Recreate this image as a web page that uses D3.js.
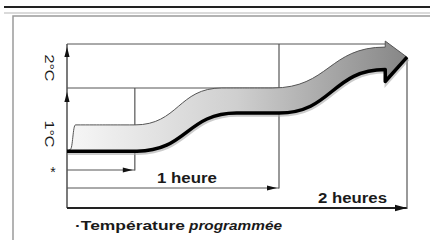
<!DOCTYPE html>
<html>
<head>
<meta charset="utf-8">
<script src="https://cdn.jsdelivr.net/npm/d3@7"></script>
<style>
  body { margin: 0; background: #fff; }
  text { font-family: "Liberation Sans", Arial, sans-serif; fill: #1a1a1a; }
</style>
</head>
<body>
<script>
// time in hours, temperature rise in degrees
var timeBreaks = [0, 1, 2];
var tempBreaks = [0, 1, 2];

// lower (black) edge of the band
var lowerT = [0, 0.33, 0.8, 1.0, 1.83];
var lowerV = [0.23, 0.23, 0.695, 0.695, 1.42];
// upper (grey) edge of the band
var upperT = [0.015, 0.04, 0.32, 0.73, 0.97, 1.83];
var upperV = [0.25, 0.55, 0.55, 1.0, 1.0, 1.93];
var tipT = 2, tipV = 1.70;

// time marks : arrow to t, then vertical up to temp
var markT = [0.32, 1, 2];
var markTop = [1, 2, 1.70];
var markLabels = ["", "1 heure", "2 heures"];

var yLabels = ["*", "1°C", "2°C"];
var yLabelFrom = [0, 0, 1];
var yLabelTo = [0, 1, 2];

var W = 430, H = 240;

var x = d3.scaleLinear().domain(timeBreaks).range([67, 279, 407]);
var y = d3.scaleLinear().domain(tempBreaks).range([170, 88, 44]);

var svg = d3.select("body").append("svg")
  .attr("width", W)
  .attr("height", H);

// frame
svg.append("line").attr("x1", 4).attr("x2", W).attr("y1", 7).attr("y2", 7)
  .attr("stroke", "#222").attr("stroke-width", 2);
svg.append("line").attr("x1", 4).attr("x2", W).attr("y1", 13).attr("y2", 13)
  .attr("stroke", "#dadada").attr("stroke-width", 2);
svg.append("path").attr("d", "M13," + H + "V16H" + W)
  .attr("fill", "none").attr("stroke", "#9a9a9a").attr("stroke-width", 1.5);

var defs = svg.append("defs");
var grad = defs.append("linearGradient").attr("id", "bandGrad")
  .attr("gradientUnits", "userSpaceOnUse")
  .attr("x1", x(0)).attr("x2", x(2)).attr("y1", 0).attr("y2", 0);
grad.append("stop").attr("offset", 0).attr("stop-color", "#f7f7f7");
grad.append("stop").attr("offset", 0.5).attr("stop-color", "#cfcfcf");
grad.append("stop").attr("offset", 1).attr("stop-color", "#868686");

var g = svg.append("g");
var gridColor = "#555";

// vertical axis
g.append("line").attr("x1", x(0)).attr("x2", x(0))
  .attr("y1", y(0) + 38).attr("y2", y(2))
  .attr("stroke", "#333").attr("stroke-width", 1.3);

// level lines
g.append("line").attr("x1", x(0)).attr("x2", x(upperT[upperT.length - 1]))
  .attr("y1", y(2)).attr("y2", y(2))
  .attr("stroke", gridColor).attr("stroke-width", 1);
g.append("line").attr("x1", x(0)).attr("x2", x(1))
  .attr("y1", y(1)).attr("y2", y(1))
  .attr("stroke", gridColor).attr("stroke-width", 1);

// up arrows on the axis
[2, 1].forEach(function(v, i) {
  var ty = y(v) + (i === 0 ? 3 : 4);
  g.append("path")
    .attr("d", "M" + x(0) + "," + ty + "l-2.6,10h5.2z")
    .attr("fill", "#111");
});

// time marks
var rowOffset = [0, 18, 38];
var labelEnd = [0, 62, 20];
markT.forEach(function(t, i) {
  var ry = y(0) + rowOffset[i];
  var xe = x(t);
  var last = i === markT.length - 1;
  g.append("line").attr("x1", x(0)).attr("x2", xe).attr("y1", ry).attr("y2", ry)
    .attr("stroke", last ? "#222" : gridColor).attr("stroke-width", last ? 2 : 1);
  g.append("line").attr("x1", xe).attr("x2", xe).attr("y1", ry + (last ? 1 : 0.5)).attr("y2", y(markTop[i]))
    .attr("stroke", gridColor).attr("stroke-width", 1.2);
  var tip = last ? xe : xe - 2;
  var len = last ? 12 : 10;
  var hw = last ? 3.2 : 2.4;
  g.append("path")
    .attr("d", "M" + tip + "," + ry + "l" + (-len) + "," + (-hw) + "v" + (2 * hw) + "z")
    .attr("fill", "#111");
  if (markLabels[i]) {
    g.append("text")
      .attr("x", xe - labelEnd[i]).attr("y", ry - 5)
      .attr("text-anchor", "end")
      .attr("font-size", 14)
      .attr("font-weight", last ? "normal" : "bold")
      .attr("textLength", last ? 69 : 60)
      .attr("lengthAdjust", "spacingAndGlyphs")
      .style("font-weight", last ? 600 : 700)
      .text(markLabels[i]);
  }
});

// band
var lowerPts = lowerT.map(function(t, i) { return [x(t), y(lowerV[i])]; });
var upperPts = upperT.map(function(t, i) { return [x(t), y(upperV[i])]; });
var line = d3.line().curve(d3.curveBumpX);

var upEnd = upperPts[upperPts.length - 1];
var loEnd = lowerPts[lowerPts.length - 1];
var cTop = [upEnd[0], upEnd[1] - 6];
var cBot = [loEnd[0], loEnd[1] + 12];
var tip = [x(tipT), y(tipV)];

var lowerRev = line(lowerPts.slice().reverse()).replace(/^M/, "L");
var bandD = line(upperPts) + "L" + cTop + "L" + tip + "L" + cBot + lowerRev + "Z";

var blackD = line(lowerPts) + "L" + cBot + "L" + tip;

g.append("path").attr("d", blackD)
  .attr("transform", "translate(1,2)")
  .attr("fill", "none").attr("stroke", "#aaa").attr("stroke-width", 3.5)
  .attr("opacity", 0.6);
g.append("path").attr("d", bandD)
  .attr("fill", "url(#bandGrad)")
  .attr("stroke", "#555").attr("stroke-width", 1)
  .attr("stroke-linejoin", "miter");
g.append("path").attr("d", blackD)
  .attr("fill", "none").attr("stroke", "#000").attr("stroke-width", 3.5)
  .attr("stroke-linejoin", "round");

// y labels
yLabels.forEach(function(lab, i) {
  var cy = (y(yLabelFrom[i]) + y(yLabelTo[i])) / 2;
  if (lab === "*") {
    g.append("text").attr("x", 53).attr("y", cy + 7)
      .attr("text-anchor", "middle").attr("font-size", 14).text(lab);
  } else {
    g.append("text")
      .attr("transform", "translate(45," + (cy + (i === 1 ? 5 : 2)) + ") rotate(90)")
      .attr("text-anchor", "middle")
      .attr("font-size", 13)
      .attr("textLength", 27)
      .attr("lengthAdjust", "spacingAndGlyphs")
      .text(lab);
  }
});

// caption
svg.append("text").attr("x", 75).attr("y", 230)
  .attr("font-size", 13).style("font-weight", 700)
  .attr("textLength", 110).attr("lengthAdjust", "spacingAndGlyphs")
  .text("·Température");
svg.append("text").attr("x", 189).attr("y", 230)
  .attr("font-size", 13).style("font-weight", 700).style("font-style", "italic")
  .attr("textLength", 93).attr("lengthAdjust", "spacingAndGlyphs")
  .text("programmée");
</script>
</body>
</html>
